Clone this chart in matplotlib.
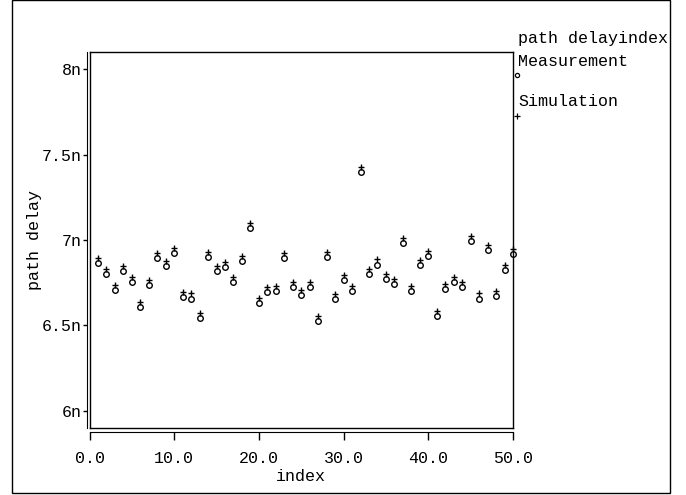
import numpy as np
import matplotlib.pyplot as plt
from matplotlib.lines import Line2D
from matplotlib.patches import Rectangle
from matplotlib.ticker import FuncFormatter, FixedLocator

plt.rcParams['font.family'] = ['Liberation Mono', 'DejaVu Sans Mono']
plt.rcParams['font.size'] = 12

# Werte (in ns)
index = list(range(1, 51))
measurement = [6.867, 6.801, 6.708, 6.819, 6.756, 6.610, 6.735, 6.896, 6.846, 6.926,
               6.665, 6.657, 6.544, 6.901, 6.817, 6.840, 6.753, 6.879, 7.070, 6.632,
               6.696, 6.702, 6.896, 6.727, 6.677, 6.723, 6.526, 6.901, 6.653, 6.766,
               6.702, 7.396, 6.801, 6.856, 6.772, 6.741, 6.982, 6.702, 6.852, 6.908,
               6.554, 6.715, 6.756, 6.725, 6.996, 6.657, 6.943, 6.674, 6.825, 6.918]
simulation = [6.897, 6.831, 6.738, 6.849, 6.786, 6.640, 6.765, 6.926, 6.876, 6.956,
              6.695, 6.687, 6.574, 6.931, 6.847, 6.870, 6.783, 6.909, 7.100, 6.662,
              6.726, 6.732, 6.926, 6.757, 6.707, 6.753, 6.556, 6.931, 6.683, 6.796,
              6.732, 7.426, 6.831, 6.886, 6.802, 6.771, 7.012, 6.732, 6.882, 6.938,
              6.584, 6.745, 6.786, 6.755, 7.026, 6.687, 6.973, 6.704, 6.855, 6.948]
x_ticks = [0, 10, 20, 30, 40, 50]
y_ticks = [6.0, 6.5, 7.0, 7.5, 8.0]
x_lim = (0, 50)
y_lim = (5.9, 8.1)

W, H = 686, 495


def fx(px):
    return px / W


def fy(py):
    return 1 - py / H


fig = plt.figure(figsize=(6.86, 4.95), dpi=100)
pos = [fx(89.5), fy(428), fx(513) - fx(89.5), fy(52) - fy(428)]

# Kasten um den Plotbereich
ax = fig.add_axes(pos)
ax.set_xlim(*x_lim)
ax.set_ylim(*y_lim)
ax.set_xticks([])
ax.set_yticks([])
for s in ax.spines.values():
    s.set_linewidth(1.0)

ax.plot(index, measurement, linestyle='none', marker='o', ms=4.0, mew=1.0,
        mfc='white', mec='black', clip_on=False)
ax.plot(index, simulation, linestyle='none', marker='+', ms=4.5, mew=1.0,
        color='black', clip_on=False)

# separate Achsen mit Ticks
ax2 = fig.add_axes(pos)
ax2.set_xlim(*x_lim)
ax2.set_ylim(*y_lim)
ax2.patch.set_visible(False)
ax2.spines['top'].set_visible(False)
ax2.spines['right'].set_visible(False)
ax2.spines['left'].set_position(('outward', 1.5))
ax2.spines['bottom'].set_position(('outward', 3))
ax2.xaxis.set_major_locator(FixedLocator(x_ticks))
ax2.yaxis.set_major_locator(FixedLocator(y_ticks))
ax2.xaxis.set_major_formatter(FuncFormatter(lambda v, p: f"{v:.1f}"))
ax2.yaxis.set_major_formatter(FuncFormatter(lambda v, p: f"{v:g}n"))
ax2.tick_params(axis='y', direction='out', length=3, width=1, pad=1)
ax2.tick_params(axis='x', direction='out', length=6, width=1, pad=7.5)
ax2.set_xlabel('index', labelpad=2)
ax2.set_ylabel('path delay', labelpad=0)

# Legende rechts
fig.text(fx(518), fy(38), 'path delayindex', ha='left', va='center', zorder=3)
fig.text(fx(518), fy(62), 'Measurement', ha='left', va='center')
fig.text(fx(518), fy(101), 'Simulation', ha='left', va='center')
fig.add_artist(Line2D([fx(517)], [fy(75)], marker='o', ms=3, mew=0.9,
                      mfc='white', mec='black', transform=fig.transFigure))
fig.add_artist(Line2D([fx(517)], [fy(116)], marker='+', ms=4, mew=0.9,
                      color='black', transform=fig.transFigure))

# Rahmen
fig.add_artist(Rectangle((fx(670.5), 0), 1 - fx(670.5), 1, transform=fig.transFigure,
                         facecolor='white', edgecolor='none', zorder=10))
fig.add_artist(Rectangle((fx(12), fy(493)), fx(670) - fx(12), fy(0) - fy(493),
                         transform=fig.transFigure, fill=False, edgecolor='black',
                         linewidth=1, zorder=11))

fig.savefig('out.png', dpi=100)
